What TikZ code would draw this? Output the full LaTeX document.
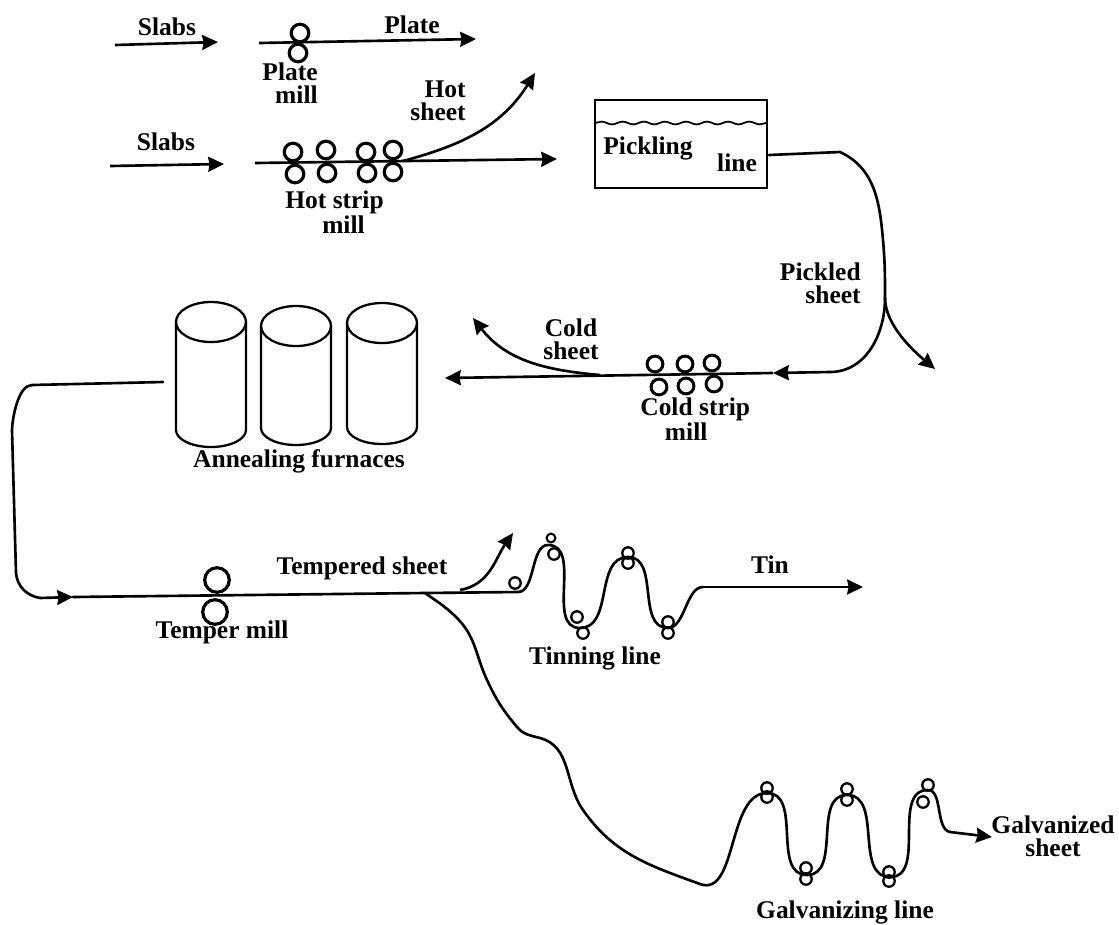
\documentclass[tikz,border=0pt]{standalone}
\usepackage{fontspec}
\setmainfont{Liberation Serif}
\usetikzlibrary{arrows.meta, decorations.pathmorphing}
\tikzset{
    flow/.style={line width=1.5pt, line cap=round},
    flowarr/.style={-{Stealth[length=9pt,width=8.5pt,inset=0.8pt]}, line width=1.5pt},
    roller/.style={circle, draw, line width=1.8pt, minimum size=10pt, inner sep=0pt},
    coldroller/.style={roller, minimum size=9pt, line width=1.7pt},
    bigroller/.style={roller, minimum size=14pt, line width=1.8pt},
    smallroller/.style={circle, draw, line width=1.2pt, minimum size=5pt, inner sep=0pt},
    midroller/.style={circle, draw, line width=1.3pt, minimum size=6.5pt, inner sep=0pt},
    lbl/.style={font=\fontsize{14.5}{13}\selectfont\bfseries, inner sep=0pt, align=center},
    tube/.style={line width=1.3pt}
}
\begin{document}
\begin{tikzpicture}[x=0.02cm, y=-0.02cm]
    \useasboundingbox (0,0) rectangle (1119,924);

    % plate mill
    \coordinate (s1a) at (115,45);
    \coordinate (s1b) at (218,42);
    \coordinate (p1a) at (259,43);
    \coordinate (p1b) at (476,39);
    \draw[flowarr] (s1a) -- (s1b);
    \draw[flowarr] (p1a) -- (p1b);
    \node[roller] (pmtop) at (300,33) {};
    \node[roller] (pmbot) at (298,53) {};
    \node[lbl] (slabs1) at (167,27) {Slabs};
    \node[lbl] (plate) at (412,25) {Plate};
    \node[lbl, align=right, anchor=east] (platemill) at (318,83) {Plate\\mill};

    % hot strip mill
    \coordinate (s2a) at (110,166);
    \coordinate (s2b) at (224,164);
    \coordinate (h1a) at (255,163);
    \coordinate (h1b) at (557,159);
    \coordinate (hbr) at (403,161);
    \coordinate (hot) at (535,73);
    \draw[flowarr] (s2a) -- (s2b);
    \draw[flowarr] (h1a) -- (h1b);
    \draw[flowarr] (hbr) to[out=15,in=-122] (hot);
    \node[roller] (ht1) at (293,152) {};
    \node[roller] (ht2) at (326,150) {};
    \node[roller] (ht3) at (366,152) {};
    \node[roller] (ht4) at (393,150) {};
    \node[roller] (hb1) at (295,174) {};
    \node[roller] (hb2) at (327,173) {};
    \node[roller] (hb3) at (367,173) {};
    \node[roller] (hb4) at (393,172) {};
    \node[lbl] (slabs2) at (166,142) {Slabs};
    \node[lbl, align=right, anchor=east] (hotsheet) at (466,101) {Hot\\sheet};
    \node[lbl, align=left, anchor=west] (hotmill) at (285,212) {Hot strip\\\hspace*{21pt}mill};

    % pickling
    \node[draw, line width=1.1pt, minimum width=98pt, minimum height=50pt, inner sep=0pt] (pickle) at (681,144) {};
    \coordinate (wl) at (595,123);
    \coordinate (wr) at (767,123);
    \draw[line width=1pt, decorate, decoration={snake, amplitude=0.8pt, segment length=12pt}] (wl) -- (wr);
    \node[lbl] (picklbl) at (648,148) {Pickling};
    \node[lbl] (picklbl2) at (737,163) {line};
    \coordinate (pout) at (769,155);
    \coordinate (pt1) at (840,152);
    \coordinate (pt2) at (883,240);
    \coordinate (pbend) at (885,298);
    \coordinate (pt3) at (830,372);
    \coordinate (pick) at (935,369);
    \coordinate (cin) at (773,373);
    \draw[flow] (pout) -- (pt1) to[out=-25,in=95] (pt2) to[out=-85,in=90] (pbend);
    \draw[flow] (pbend) to[out=-90,in=0] (pt3);
    \draw[flowarr] (pt3) -- (cin);
    \draw[flowarr] (pbend) to[out=-90,in=140,looseness=0.8] (pick);
    \node[lbl, align=right, anchor=east] (pickled) at (861,283) {Pickled\\sheet};

    % cold strip mill
    \coordinate (cout) at (445,378);
    \coordinate (cbr) at (600,375);
    \coordinate (cold) at (473,318);
    \draw[flowarr] (cin) -- (cout);
    \draw[flowarr] (cbr) to[out=175,in=-52] (cold);
    \node[coldroller] (ct1) at (655,364) {};
    \node[coldroller] (ct2) at (685,364) {};
    \node[coldroller] (ct3) at (712,363) {};
    \node[coldroller] (cb1) at (659,387) {};
    \node[coldroller] (cb2) at (686,386) {};
    \node[coldroller] (cb3) at (714,384) {};
    \node[lbl] (coldsheet) at (571,339) {Cold\\sheet};
    \node[lbl, align=left, anchor=west] (coldmill) at (640,419) {Cold strip\\\hspace*{14pt}mill};

    % furnaces
    \foreach \fx/\fy/\fb in {211/322/430,296/326/428,382/323/427} {
        \draw[tube] (\fx,\fy) ellipse [x radius=35, y radius=20];
        \draw[tube] (\fx-35,\fy) -- (\fx-35,\fb) arc [start angle=180, end angle=360, x radius=35, y radius=-17] -- (\fx+35,\fy);
    }
    \node[lbl] (furn) at (299,461) {Annealing furnaces};

    % temper mill
    \coordinate (fout) at (163,382);
    \coordinate (fl1) at (32,385);
    \coordinate (fl2) at (12,430);
    \coordinate (fl3) at (16,573);
    \coordinate (fl4) at (40,598);
    \coordinate (tmid) at (73,597);
    \coordinate (tbr) at (425,593);
    \coordinate (tin0) at (518,592);
    \draw[flow] (fout) -- (fl1) to[out=180,in=88,looseness=0.7] (fl2) -- (fl3) to[out=-85,in=170] (fl4);
    \draw[flowarr] (fl4) -- (tmid);
    \draw[flow] (tmid) -- (tbr) -- (tin0);
    \coordinate (tbrup) at (460,590);
    \coordinate (tup) at (513,533);
    \draw[flowarr] (tbrup) to[out=10,in=-125] (tup);
    \node[bigroller] (tmtop) at (217,580) {};
    \node[bigroller] (tmbot) at (215,612) {};
    \node[lbl] (tempered) at (362,568) {Tempered sheet};
    \node[lbl] (tempermill) at (222,632) {Temper mill};

    % tinning line
    \coordinate (tn1) at (548,545);
    \coordinate (tn2) at (580,628);
    \coordinate (tn3) at (628,557);
    \coordinate (tn4) at (668,628);
    \coordinate (tn5) at (703,587);
    \coordinate (tinend) at (863,587);
    \draw[flow] (tin0) to[out=0,in=180,looseness=0.8] (tn1) to[out=0,in=180] (tn2)
        to[out=0,in=180] (tn3) to[out=0,in=180] (tn4) to[out=0,in=180,looseness=0.8] (tn5);
    \draw[flowarr] (tn5) -- (tinend);
    \node[midroller] (tr1) at (515,583) {};
    \node[smallroller] (tr2) at (551,538) {};
    \node[midroller] (tr3) at (554,554) {};
    \node[midroller] (tr4) at (577,617) {};
    \node[midroller] (tr5) at (583,633) {};
    \node[midroller] (tr6) at (628,553) {};
    \node[midroller] (tr7) at (628,563) {};
    \node[midroller] (tr8) at (668,622) {};
    \node[midroller] (tr9) at (668,633) {};
    \node[lbl] (tin) at (770,565) {Tin};
    \node[lbl] (tinline) at (595,658) {Tinning line};

    % galvanizing line
    \coordinate (gv1) at (457,618);
    \coordinate (gv2) at (487,680);
    \coordinate (gv3) at (517,727);
    \coordinate (gv4) at (540,738);
    \coordinate (gv5) at (583,810);
    \coordinate (gv6) at (700,884);
    \coordinate (gp1) at (767,793);
    \coordinate (gp2) at (807,875);
    \coordinate (gp3) at (847,795);
    \coordinate (gp4) at (890,877);
    \coordinate (gp5) at (928,790);
    \coordinate (gp6) at (950,832);
    \coordinate (galv) at (992,837);
    \draw[flow] (tbr) to[out=-35,in=135] (gv1) to[out=-45,in=115] (gv2) to[out=-65,in=130] (gv3)
        to[out=-50,in=165] (gv4) to[out=-15,in=125] (gv5) to[out=-55,in=160] (gv6);
    \draw[flow] (gv6) to[out=-20,in=180,looseness=0.9] (gp1) to[out=0,in=180] (gp2)
        to[out=0,in=180] (gp3) to[out=0,in=180] (gp4) to[out=0,in=180] (gp5)
        to[out=0,in=170,looseness=0.8] (gp6);
    \draw[flowarr] (gp6) -- (galv);
    \node[midroller] (gr1) at (767,788) {};
    \node[midroller] (gr2) at (767,797) {};
    \node[midroller] (gr3) at (806,868) {};
    \node[midroller] (gr4) at (806,879) {};
    \node[midroller] (gr5) at (847,789) {};
    \node[midroller] (gr6) at (847,800) {};
    \node[midroller] (gr7) at (889,872) {};
    \node[midroller] (gr8) at (889,881) {};
    \node[midroller] (gr9) at (928,785) {};
    \node[midroller] (gr10) at (923,802) {};
    \node[lbl] (galvsheet) at (1053,836) {Galvanized\\sheet};
    \node[lbl] (galvline) at (845,912) {Galvanizing line};
\end{tikzpicture}
\end{document}
